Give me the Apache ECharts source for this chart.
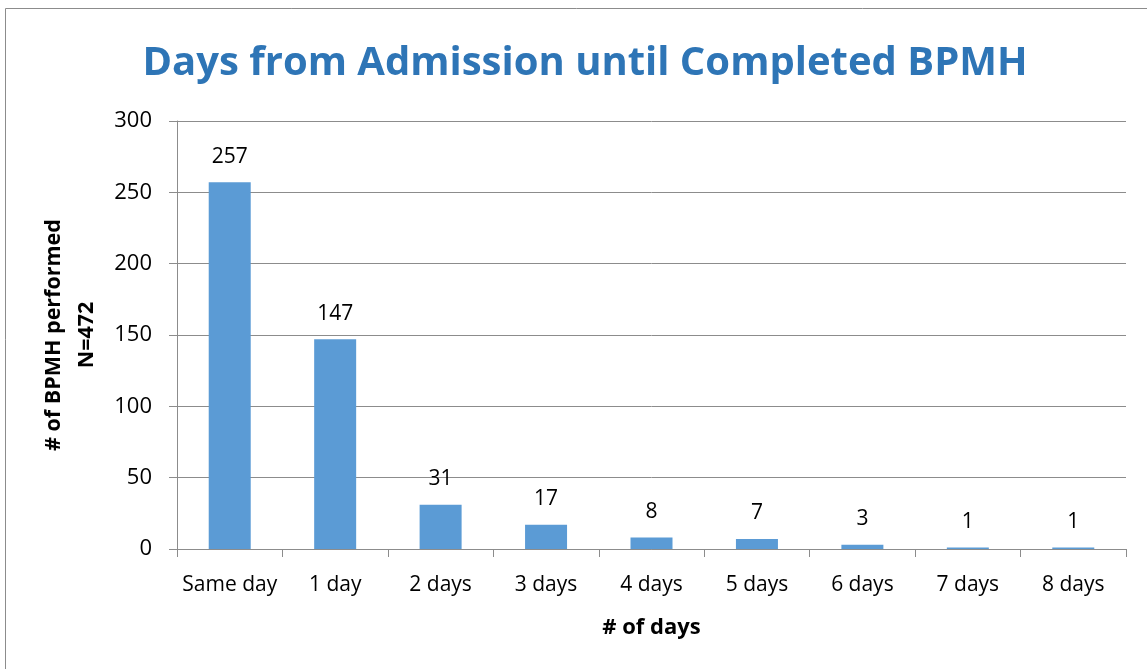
<!DOCTYPE html>
<html lang="en">
<head>
    <meta charset="utf-8">
    <title>Days from Admission until Completed BPMH</title>
    <script src="https://cdn.jsdelivr.net/npm/echarts@6/dist/echarts.min.js"></script>
    <style>
        html, body { margin: 0; padding: 0; background: #fff; }
        #chartMain { width: 1147px; height: 669px; }
    </style>
</head>
<body>
    <div id="chartMain"></div>
    <script type="text/javascript">
        // values
        var categories = ['Same day', '1 day', '2 days', '3 days', '4 days', '5 days', '6 days', '7 days', '8 days'];
        var counts = [257, 147, 31, 17, 8, 7, 3, 1, 1];
        var yTicks = [0, 50, 100, 150, 200, 250, 300];

        var font = 'Open Sans';
        var axisGray = '#8c8c8c';

        var chart = echarts.init(document.getElementById('chartMain'));
        var option = {
            animation: false,
            textStyle: { fontFamily: font },
            graphic: [{
                type: 'rect',
                shape: { x: 5.5, y: 8.5, width: 1200, height: 700 },
                style: { fill: 'none', stroke: '#8c8c8c', lineWidth: 1 },
                silent: true
            }],
            title: {
                text: 'Days from Admission until Completed BPMH',
                left: 580,
                top: 39,
                textAlign: 'center',
                textStyle: {
                    color: '#2e75b6',
                    fontSize: 40,
                    fontWeight: 'bold',
                    fontFamily: font
                }
            },
            grid: {
                left: 177,
                right: 21,
                top: 121,
                bottom: 120,
                containLabel: false
            },
            xAxis: {
                type: 'category',
                data: categories,
                name: '# of days',
                nameLocation: 'middle',
                nameGap: 68,
                nameTextStyle: { fontSize: 22, fontWeight: 'bold', color: '#000' },
                axisLine: { lineStyle: { color: axisGray } },
                axisTick: { show: true, length: 8, lineStyle: { color: axisGray } },
                axisLabel: { color: '#000', fontSize: 21, margin: 26, interval: 0 }
            },
            yAxis: {
                type: 'value',
                min: yTicks[0],
                max: yTicks[yTicks.length - 1],
                interval: 50,
                name: '# of BPMH performed\nN=472',
                nameLocation: 'middle',
                nameGap: 74,
                nameTextStyle: { fontSize: 21.5, fontWeight: 'bold', color: '#000', lineHeight: 33 },
                axisLine: { show: true, lineStyle: { color: axisGray } },
                axisTick: { show: true, length: 8, lineStyle: { color: axisGray } },
                splitLine: { lineStyle: { color: axisGray } },
                axisLabel: { color: '#000', fontSize: 22, margin: 25 }
            },
            series: [{
                type: 'bar',
                data: counts,
                barWidth: 42,
                itemStyle: { color: '#5b9bd5' },
                label: {
                    show: true,
                    position: 'top',
                    distance: 15,
                    color: '#000',
                    fontSize: 21
                }
            }]
        };
        chart.setOption(option);
    </script>
</body>
</html>
